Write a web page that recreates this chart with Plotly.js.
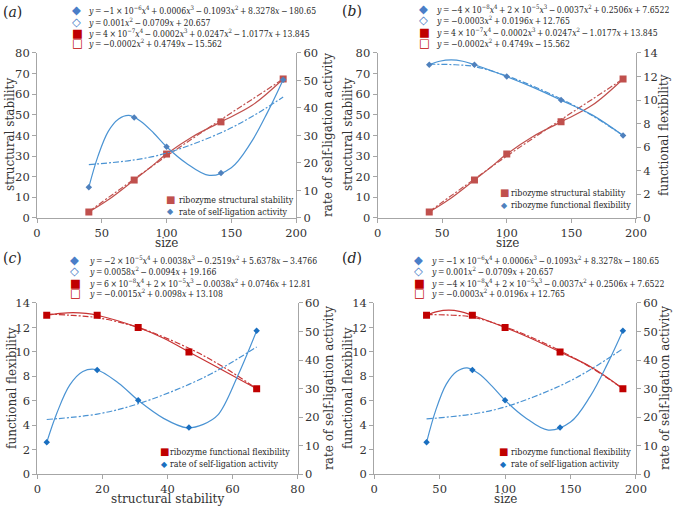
<!DOCTYPE html>
<html>
<head>
<meta charset="utf-8">
<script src="https://cdn.plot.ly/plotly-3.0.1.min.js"></script>
<style>
  html, body { margin: 0; padding: 0; background: #fff; }
  #chart { width: 673px; height: 506px; }
</style>
</head>
<body>
<div id="chart"></div>
<script>
var sizeVals = [40, 75, 100, 142, 190];
var stabilityVals = [2.9, 18.4, 31.0, 46.6, 67.4];
var rateVals = [11.2, 36.5, 25.9, 16.4, 50.3];
var flexVals = [13, 13, 12, 10, 7];

// trendlines, points
// size -> structural stability
var stabQuartX = [40, 55, 75, 87, 100, 120, 142, 166, 190];
var stabQuartY = [2.9, 8.8, 18.4, 24.3, 31.0, 39.4, 46.6, 54.6, 67.4];
var stabQuadX = [40, 75, 100, 142, 166, 190];
var stabQuadY = [3.1, 18.9, 30.0, 47.7, 57.5, 67.4];
// size -> rate of self-ligation
var rateQuartX = [40, 47, 55, 63, 71, 80, 90, 100, 115, 133, 150, 165, 178, 190];
var rateQuartY = [11.2, 22.4, 31.5, 36.0, 37.3, 35.2, 30.9, 25.9, 20.0, 15.5, 18.3, 27.3, 38.5, 50.3];
var rateQuadX = [40, 75, 100, 142, 166, 190];
var rateQuadY = [19.4, 21.1, 23.6, 31.0, 36.9, 44.0];
// size -> functional flexibility
var flexQuartX = [40, 48, 57, 66, 75, 100, 120, 142, 166, 190];
var flexQuartY = [13.0, 13.3, 13.42, 13.3, 13.0, 12.0, 11.1, 10.0, 8.75, 7.0];
var flexQuadX = [40, 60, 75, 100, 120, 142, 166, 190];
var flexQuadY = [13.05, 13.0, 12.85, 12.05, 11.2, 10.1, 8.7, 7.0];
// structural stability -> functional flexibility
var flexStabQuartX = [2.9, 7, 11, 15, 18.4, 31.0, 39, 46.6, 57, 67.4];
var flexStabQuartY = [13.0, 13.15, 13.22, 13.15, 13.0, 12.0, 11.1, 10.0, 8.5, 7.0];
var flexStabQuadX = [2.9, 10, 18.4, 31.0, 46.6, 57, 67.4];
var flexStabQuadY = [13.1, 13.0, 12.8, 12.0, 10.3, 8.8, 7.0];
// structural stability -> rate of self-ligation
var rateStabQuartX = [2.9, 6, 10, 14, 18, 25, 31.0, 38.8, 46, 51, 55.5, 61.7, 67.4];
var rateStabQuartY = [11.2, 21.4, 31.3, 36.0, 36.7, 31.9, 25.9, 19.6, 16.3, 17.5, 20.8, 34.8, 50.3];
var rateStabQuadX = [2.9, 18.4, 31.0, 46.6, 57, 67.4];
var rateStabQuadY = [19.2, 21.1, 24.7, 31.5, 37.4, 44.6];

// trendline equations shown above each panel
var eqA = [
    '<i>y</i> = −1 × 10<sup>−6</sup><i>x</i><sup>4</sup> + 0.0006<i>x</i><sup>3</sup> − 0.1093<i>x</i><sup>2</sup> + 8.3278<i>x</i> − 180.65',
    '<i>y</i> = 0.001<i>x</i><sup>2</sup> − 0.0709<i>x</i> + 20.657',
    '<i>y</i> = 4 × 10<sup>−7</sup><i>x</i><sup>4</sup> − 0.0002<i>x</i><sup>3</sup> + 0.0247<i>x</i><sup>2</sup> − 1.0177<i>x</i> + 13.845',
    '<i>y</i> = −0.0002<i>x</i><sup>2</sup> + 0.4749<i>x</i> − 15.562'
];
var eqB = [
    '<i>y</i> = −4 × 10<sup>−8</sup><i>x</i><sup>4</sup> + 2 × 10<sup>−5</sup><i>x</i><sup>3</sup> − 0.0037<i>x</i><sup>2</sup> + 0.2506<i>x</i> + 7.6522',
    '<i>y</i> = −0.0003<i>x</i><sup>2</sup> + 0.0196<i>x</i> + 12.765',
    '<i>y</i> = 4 × 10<sup>−7</sup><i>x</i><sup>4</sup> − 0.0002<i>x</i><sup>3</sup> + 0.0247<i>x</i><sup>2</sup> − 1.0177<i>x</i> + 13.845',
    '<i>y</i> = −0.0002<i>x</i><sup>2</sup> + 0.4749<i>x</i> − 15.562'
];
var eqC = [
    '<i>y</i> = −2 × 10<sup>−5</sup><i>x</i><sup>4</sup> + 0.0038<i>x</i><sup>3</sup> − 0.2519<i>x</i><sup>2</sup> + 5.6378<i>x</i> − 3.4766',
    '<i>y</i> = 0.0058<i>x</i><sup>2</sup> − 0.0094<i>x</i> + 19.166',
    '<i>y</i> = 6 × 10<sup>−8</sup><i>x</i><sup>4</sup> + 2 × 10<sup>−5</sup><i>x</i><sup>3</sup> − 0.0038<i>x</i><sup>2</sup> + 0.0746<i>x</i> + 12.81',
    '<i>y</i> = −0.0015<i>x</i><sup>2</sup> + 0.0098<i>x</i> + 13.108'
];
var eqD = [
    '<i>y</i> = −1 × 10<sup>−6</sup><i>x</i><sup>4</sup> + 0.0006<i>x</i><sup>3</sup> − 0.1093<i>x</i><sup>2</sup> + 8.3278<i>x</i> − 180.65',
    '<i>y</i> = 0.001<i>x</i><sup>2</sup> − 0.0709<i>x</i> + 20.657',
    '<i>y</i> = −4 × 10<sup>−8</sup><i>x</i><sup>4</sup> + 2 × 10<sup>−5</sup><i>x</i><sup>3</sup> − 0.0037<i>x</i><sup>2</sup> + 0.2506<i>x</i> + 7.6522',
    '<i>y</i> = −0.0003<i>x</i><sup>2</sup> + 0.0196<i>x</i> + 12.765'
];

var W = 673, H = 506;
var SERIF = 'DejaVu Serif';
var NARROW = 'DejaVu Serif Condensed';
var INK = '#333333';
var RED1 = '#C0504D', RED2 = '#C00000', REDLINE2 = '#C83434';
var BLUE1 = '#4F81BD', BLUE2 = '#1A6FC0', BLUELINE = '#4A93D3';
var DASHDOT = '6px,2px,2px,2px';

function fit(x, y, xa, ya, color, dashed) {
    return {
        type: 'scatter', mode: 'lines', x: x, y: y, xaxis: xa, yaxis: ya,
        line: { color: color, width: 1.2, shape: 'spline', smoothing: 1, dash: dashed ? DASHDOT : 'solid' },
        hoverinfo: 'skip', showlegend: false
    };
}
function pts(x, y, xa, ya, color, symbol, size) {
    return {
        type: 'scatter', mode: 'markers', x: x, y: y, xaxis: xa, yaxis: ya,
        marker: { color: color, symbol: symbol, size: size },
        showlegend: false
    };
}

var data = [
    // (a) size vs stability / rate
    fit(stabQuadX, stabQuadY, 'x', 'y', RED1, true),
    fit(stabQuartX, stabQuartY, 'x', 'y', RED1, false),
    pts(sizeVals, stabilityVals, 'x', 'y', RED1, 'square', 7),
    fit(rateQuadX, rateQuadY, 'x', 'y2', BLUELINE, true),
    fit(rateQuartX, rateQuartY, 'x', 'y2', BLUELINE, false),
    pts(sizeVals, rateVals, 'x', 'y2', BLUE1, 'diamond', 5),
    // (b) size vs stability / flexibility
    fit(stabQuadX, stabQuadY, 'x2', 'y3', RED1, true),
    fit(stabQuartX, stabQuartY, 'x2', 'y3', RED1, false),
    pts(sizeVals, stabilityVals, 'x2', 'y3', RED1, 'square', 7),
    fit(flexQuadX, flexQuadY, 'x2', 'y4', BLUELINE, true),
    fit(flexQuartX, flexQuartY, 'x2', 'y4', BLUELINE, false),
    pts(sizeVals, flexVals, 'x2', 'y4', BLUE1, 'diamond', 5),
    // (c) stability vs flexibility / rate
    fit(flexStabQuadX, flexStabQuadY, 'x3', 'y5', REDLINE2, true),
    fit(flexStabQuartX, flexStabQuartY, 'x3', 'y5', REDLINE2, false),
    pts(stabilityVals, flexVals, 'x3', 'y5', RED2, 'square', 7),
    fit(rateStabQuadX, rateStabQuadY, 'x3', 'y6', BLUELINE, true),
    fit(rateStabQuartX, rateStabQuartY, 'x3', 'y6', BLUELINE, false),
    pts(stabilityVals, rateVals, 'x3', 'y6', BLUE2, 'diamond', 5),
    // (d) size vs flexibility / rate
    fit(flexQuadX, flexQuadY, 'x4', 'y7', REDLINE2, true),
    fit(flexQuartX, flexQuartY, 'x4', 'y7', REDLINE2, false),
    pts(sizeVals, flexVals, 'x4', 'y7', RED2, 'square', 7),
    fit(rateQuadX, rateQuadY, 'x4', 'y8', BLUELINE, true),
    fit(rateQuartX, rateQuartY, 'x4', 'y8', BLUELINE, false),
    pts(sizeVals, rateVals, 'x4', 'y8', BLUE2, 'diamond', 5)
];

function ax(extra) {
    var base = {
        showline: true, linecolor: '#A6A6A6', linewidth: 1,
        ticks: 'outside', ticklen: 4, tickcolor: '#A6A6A6',
        showgrid: false, zeroline: false, automargin: false, fixedrange: true,
        tickfont: { family: SERIF, size: 11.5, color: INK }
    };
    for (var k in extra) base[k] = extra[k];
    return base;
}

var topDom = [0.5692, 0.8953], botDom = [0.0626, 0.4012];

var layout = {
    width: W, height: H,
    margin: { l: 0, r: 0, t: 0, b: 0 },
    paper_bgcolor: '#fff', plot_bgcolor: 'rgba(0,0,0,0)',
    showlegend: false,
    font: { family: SERIF },
    xaxis: ax({ domain: [0.055, 0.440], range: [0, 200], dtick: 50, anchor: 'y' }),
    yaxis: ax({ domain: topDom, range: [0, 80], dtick: 10, anchor: 'x' }),
    yaxis2: ax({ overlaying: 'y', side: 'right', anchor: 'x', range: [0, 60], dtick: 10 }),
    xaxis2: ax({ domain: [0.561, 0.945], range: [0, 200], dtick: 50, anchor: 'y3' }),
    yaxis3: ax({ domain: topDom, range: [0, 80], dtick: 10, anchor: 'x2' }),
    yaxis4: ax({ overlaying: 'y3', side: 'right', anchor: 'x2', range: [0, 14], dtick: 2 }),
    xaxis3: ax({ domain: [0.0554, 0.4423], range: [0, 80], dtick: 20, anchor: 'y5' }),
    yaxis5: ax({ domain: botDom, range: [0, 14], dtick: 2, anchor: 'x3' }),
    yaxis6: ax({ overlaying: 'y5', side: 'right', anchor: 'x3', range: [0, 60], dtick: 10 }),
    xaxis4: ax({ domain: [0.556, 0.945], range: [0, 200], dtick: 50, anchor: 'y7' }),
    yaxis7: ax({ domain: botDom, range: [0, 14], dtick: 2, anchor: 'x4' }),
    yaxis8: ax({ overlaying: 'y7', side: 'right', anchor: 'x4', range: [0, 60], dtick: 10 }),
    annotations: []
};

function note(x, y, text, size, color, family, angle, xanchor) {
    layout.annotations.push({
        xref: 'paper', yref: 'paper', x: x / W, y: 1 - y / H,
        xanchor: xanchor || 'left', yanchor: 'middle', showarrow: false, textangle: angle || 0,
        text: text, font: { family: family || SERIF, size: size, color: color || INK }
    });
}

// axis titles
var TS = 12;
note(166, 243, 'size', TS, INK, SERIF, 0, 'center');
note(507, 243, 'size', TS, INK, SERIF, 0, 'center');
note(167, 499, 'structural stability', TS, INK, SERIF, 0, 'center');
note(505, 499, 'size', TS, INK, SERIF, 0, 'center');
note(10, 135, 'structural stability', TS, INK, SERIF, -90, 'center');
note(348, 135, 'structural stability', TS, INK, SERIF, -90, 'center');
note(12, 388, 'functional flexibility', TS, INK, SERIF, -90, 'center');
note(348, 388, 'functional flexibility', TS, INK, SERIF, -90, 'center');
note(328, 135, 'rate of self-ligation activity', TS, INK, SERIF, -90, 'center');
note(664, 135, 'functional flexibility', TS, INK, SERIF, -90, 'center');
note(329, 388, 'rate of self-ligation activity', TS, INK, SERIF, -90, 'center');
note(665, 388, 'rate of self-ligation activity', TS, INK, SERIF, -90, 'center');

// panel letters
note(1, 12, '(<i>a</i>)', 14, '#262626');
note(340, 11, '(<i>b</i>)', 14, '#262626');
note(1, 258, '(<i>c</i>)', 14, '#262626');
note(340, 258, '(<i>d</i>)', 14, '#262626');

// equation keys (thin spaces keep the wide serif close to the original line length)
var eqGlyphs = ['◆', '◇', '■', '□'];
var eqColors = ['#4A7EC8', '#4A7EC8', RED2, RED2];
function eqBlock(lines, mx, tx, rows) {
    for (var i = 0; i < lines.length; i++) {
        note(mx - 6, rows[i], '<b>' + eqGlyphs[i] + '</b>', 11.5, eqColors[i], 'DejaVu Sans');
        note(tx, rows[i], lines[i].replace(/ /g, '\u2009'), 8.6, '#262626', NARROW);
    }
}
eqBlock(eqA, 76, 86, [10, 21.7, 32.7, 43.3]);
eqBlock(eqB, 423, 434, [9, 20, 31.7, 42.7]);
eqBlock(eqC, 74, 87, [260, 271, 282.7, 293.3]);
eqBlock(eqD, 418, 429, [260, 271, 282.7, 293.3]);

// in-plot keys
function keyBlock(mx, tx, rows, labels, colors) {
    note(mx - 5, rows[0], '■', 10, colors[0], 'DejaVu Sans');
    note(tx, rows[0], labels[0], 8.8, '#262626', NARROW);
    note(mx - 4, rows[1], '◆', 8, colors[1], 'DejaVu Sans');
    note(tx, rows[1], labels[1], 8.8, '#262626', NARROW);
}
keyBlock(169, 177, [200, 211.7], ['ribozyme structural stability', 'rate of self-ligation activity'], [RED1, BLUE1]);
keyBlock(503, 509, [192.7, 205], ['ribozyme structural stability', 'ribozyme functional flexibility'], [RED1, BLUE1]);
keyBlock(163, 168, [451.7, 464], ['ribozyme functional flexibility', 'rate of self-ligation activity'], [RED2, BLUE2]);
keyBlock(502, 509, [451.7, 464], ['ribozyme functional flexibility', 'rate of self-ligation activity'], [RED2, BLUE2]);

Plotly.newPlot('chart', data, layout, { displayModeBar: false, staticPlot: true });
</script>
</body>
</html>
